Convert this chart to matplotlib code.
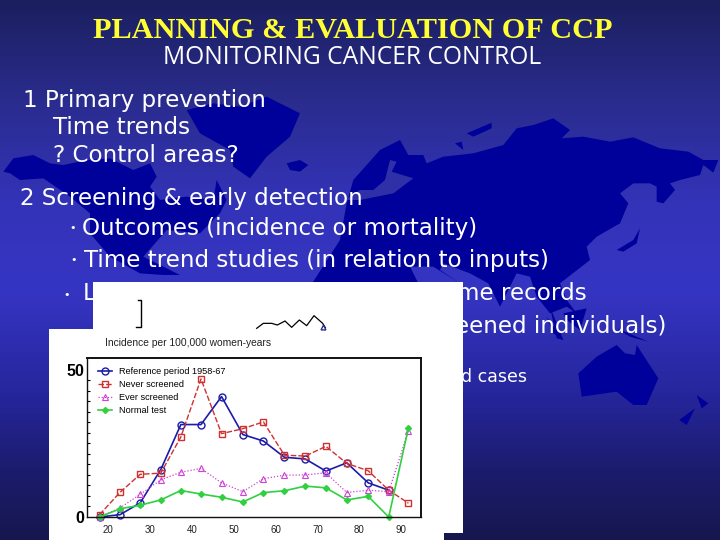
import numpy as np
import matplotlib
matplotlib.use("Agg")
import matplotlib.pyplot as plt
from matplotlib.colors import LinearSegmentedColormap
from matplotlib.patches import Polygon, Rectangle

# ---- chart data ----
ages = [18, 22.9, 27.7, 32.6, 37.4, 42.2, 47.1, 52.2, 57.1, 62.1, 67.1, 72, 77, 82.1, 87, 91.7]
reference = [0, 0.8, 4.8, 16.1, 31.4, 31.4, 40.9, 28, 25.8, 20.3, 19.7, 15.6, 18.4, 11.6, 9.1]
never = [0.8, 8.4, 14.5, 14.9, 27.2, 46.9, 28.3, 30, 32.3, 21, 20.7, 24, 18.2, 15.7, 9.1, 4.7]
ever = [0, 3.1, 7.7, 12.6, 15.2, 16.5, 11.6, 8.6, 13, 14.2, 14.3, 15, 8.3, 9.1, 8.6, 29.3]
normal = [0, 2.8, 4, 5.8, 9, 7.8, 6.7, 5.1, 8.3, 8.9, 10.5, 9.9, 5.8, 7, 0, 30.3]
x_ticks = [20, 30, 40, 50, 60, 70, 80, 90]
y_ticks = [0, 50]
series_names = ["Reference period 1958-67", "Never screened", "Ever screened", "Normal test"]
y_title = "Incidence per 100,000 women-years"

title = "PLANNING & EVALUATION OF CCP"
subtitle = "MONITORING CANCER CONTROL"
body_lines = [
    ("1 Primary prevention", 23, 100),
    ("Time trends", 53, 128),
    ("? Control areas?", 53, 156),
    ("2 Screening & early detection", 20, 199),
    ("Outcomes (incidence or mortality)", 82, 228),
    ("Time trend studies (in relation to inputs)", 84, 260),
    ("L", 83, 294),
]
bullets = [(73, 228), (74, 260), (67, 295)]
right_fragments = [("me records", 587, 294), ("eened individuals)", 666, 326), ("d cases", 527, 377)]

fig = plt.figure(figsize=(7.2, 5.4), dpi=100)
bg = fig.add_axes([0, 0, 1, 1])
bg.set_xlim(0, 720)
bg.set_ylim(540, 0)
bg.axis("off")

# ---- slide background ----
cmap = LinearSegmentedColormap.from_list("slide", [
    (0, "#1b1f5f"), (100 / 540, "#2a2c8e"), (200 / 540, "#3333b8"), (290 / 540, "#3535c4"),
    (400 / 540, "#25259a"), (470 / 540, "#1c1c6e"), (1, "#16174f")])
bg.imshow(np.linspace(0, 1, 540)[:, None], cmap=cmap, extent=[0, 720, 540, 0], aspect="auto", zorder=0)

MAP = "#00009a"
def z5(pts): return [(x / 3, 100 + y / 3) for x, y in pts]
def z6(pts): return [(360 + x / 3, 100 + y / 3) for x, y in pts]
def z4(pts): return [(440 + x / 3, 270 + y / 3) for x, y in pts]

land = [
    z5([(10,215),(40,175),(100,165),(150,190),(190,195),(260,180),(330,175),(400,210),(450,190),(470,230),
        (450,260),(480,300),(560,290),(640,300),(650,240),(680,300),(660,340),(600,400),(500,390),(430,470),
        (540,525),(490,525),(420,520),(330,470),(270,400),(270,340),(210,290),(130,235),(60,240),(30,220)]),
    z5([(560,30),(640,10),(720,20),(800,-10),(900,40),(870,110),(800,170),(750,235),(700,200),(690,150),(600,100)]),
    z5([(860,190),(900,180),(925,195),(900,215),(870,210)]),
    z6([(-20,240),(60,150),(120,120),(145,165),(190,165),(200,190),(250,170),(340,160),(430,135),(470,85),
        (520,75),(580,55),(630,90),(605,115),(670,110),(750,125),(820,112),(900,145),(985,155),(1030,180),
        (1075,180),(1060,218),(1030,195),(1020,225),(960,240),(930,250),(945,270),(910,310),(890,305),(890,260),
        (870,250),(820,250),(780,280),(805,310),(780,370),(710,410),(680,440),(690,480),(600,550),(620,600),
        (650,640),(620,620),(570,640),(530,590),(510,530),(470,520),(420,620),(385,550),(330,520),(250,490),
        (240,510),(300,550),(220,500),(150,500),(180,560),(-150,560),(-60,420),(-40,310)]),
    z6([(320,100),(395,68),(395,85),(340,110)]),
    z6([(285,130),(305,125),(310,150)]),
    z6([(840,385),(830,430),(790,455),(770,450),(820,420)]),
    z6([(610,640),(680,625),(660,690),(620,660)]),
    z6([(560,650),(610,720),(580,700)]),
    z4([(415,310),(470,260),(530,225),(555,250),(585,255),(590,225),(655,325),(620,405),(580,405),(530,365),(425,380)]),
    z4([(770,375),(805,400),(785,415)]),
    z4([(765,415),(740,465),(718,450)]),
    z4([(330,110),(370,210),(350,205)]),
    z4([(430,115),(400,175),(420,150)]),
    z4([(530,175),(625,215),(570,200)]),
]
for pts in land:
    bg.add_patch(Polygon(pts, closed=True, fc=MAP, ec="none", zorder=1))
# Baltic inlet
bg.add_patch(Polygon(z6([(-45,300),(0,270),(40,270),(75,240),(90,180),(110,185),(95,215),(160,235),(100,280),(0,300)]),
                     closed=True, fc="#2f2fa8", ec="none", zorder=1.1))

# ---- slide text ----
bg.text(352.5, 31, title, color="#ffff33", family="Liberation Serif", weight="bold",
        fontsize=21.8, ha="center", va="center", zorder=2)
bg.text(352, 57.5, subtitle, color="white", family="Open Sans", fontsize=17.7,
        ha="center", va="center", zorder=2)
for s, x, y in body_lines:
    bg.text(x, y, s, color="white", fontsize=16.6, ha="left", va="center", zorder=2)
for x, y in bullets:
    bg.text(x, y, "•", color="white", fontsize=8, ha="center", va="center", zorder=2)
for s, x, y in right_fragments:
    bg.text(x, y, s, color="white", fontsize=16.6 if s != "d cases" else 12.5, ha="right", va="center", zorder=2)

# ---- white pasted panels and chart fragments ----
bg.add_patch(Rectangle((93, 282), 370, 251, fc="white", ec="none", zorder=3))
bg.add_patch(Rectangle((49, 329), 395, 211, fc="white", ec="none", zorder=3))
bg.plot([138, 141, 141, 136], [300, 300, 327, 327], color="black", lw=1, zorder=4)
frag = [(650,115),(670,100),(695,100),(712,105),(735,93),(755,112),(778,90),(800,107),(822,77),(848,100),(856,113)]
bg.plot([40 + x / 3 for x, _ in frag], [290 + y / 3 for _, y in frag], color="black", lw=0.9, zorder=4)
bg.plot([323], [327], marker="^", ms=3.5, mfc="none", mec="#303090", zorder=4)
bg.text(105, 342.5, y_title, fontsize=7.4, color="#222222", va="center", zorder=4, family="Liberation Sans")

# ---- chart ----
ax = fig.add_axes([87 / 720, 23 / 540, 334 / 720, 159 / 540], facecolor="none", zorder=5)
ax.plot(ages[:len(reference)], reference, color="#1c1ca8", lw=1.2, marker="o", ms=5, mfc="none", mew=1,
        label=series_names[0], clip_on=False)
ax.plot(ages, never, color="#d03030", lw=1, ls=(0, (4, 1.5)), marker="s", ms=4.5, mfc="none", mew=1,
        label=series_names[1], clip_on=False)
ax.plot(ages, ever, color="#d040d8", lw=0.9, ls=(0, (1, 1.5)), marker="^", ms=4.5, mfc="none", mew=0.8,
        label=series_names[2], clip_on=False)
ax.plot(ages, normal, color="#30d040", lw=1.2, marker="D", ms=3, label=series_names[3], clip_on=False)

ax.set_xlim(15, 94.7)
ax.set_ylim(0, 54)
ax.set_xticks(x_ticks)
ax.set_yticks(y_ticks)
ax.set_yticks(np.linspace(0, 50, 15), minor=True)
ax.tick_params(axis="x", length=0, labelsize=7, pad=6, labelcolor="#222222")
ax.tick_params(axis="y", which="major", length=0, labelsize=11.5, pad=2)
ax.tick_params(axis="y", which="minor", direction="in", length=2, width=0.8)
for lab in ax.get_yticklabels():
    lab.set_fontweight("bold")
    lab.set_family("Liberation Sans")
for lab in ax.get_xticklabels():
    lab.set_family("Liberation Sans")
for sp in ax.spines.values():
    sp.set_linewidth(1.0)
    sp.set_color("#111111")
ax.spines["top"].set_linewidth(1.4)
ax.spines["right"].set_linewidth(1.4)
leg = ax.legend(loc="upper left", bbox_to_anchor=(0.015, 0.985), frameon=False,
                labelspacing=0.45, handlelength=1.5, handletextpad=0.7, borderpad=0.2,
                prop={"family": "Liberation Sans", "size": 6.6})
fig.savefig("out.png", dpi=100)
